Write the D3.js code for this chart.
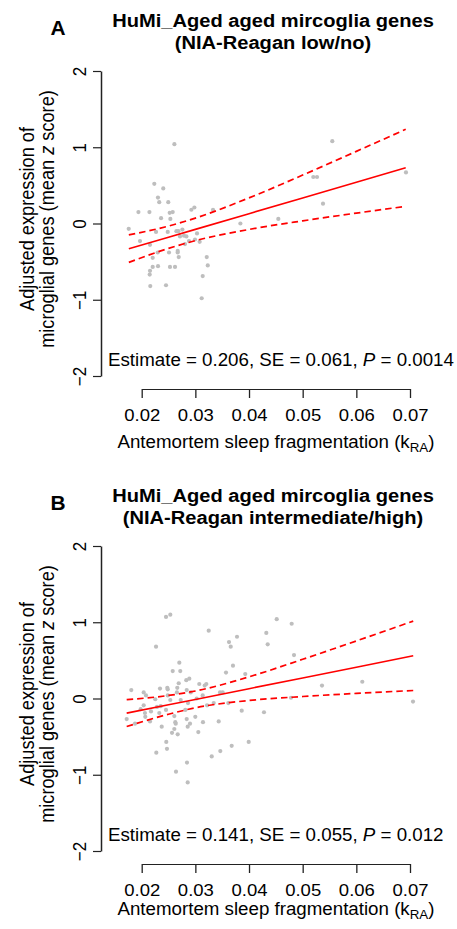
<!DOCTYPE html>
<meta charset="utf-8">
<style>
body { margin: 0; background: #fff; }
text { font-family: "Liberation Sans", Arial, Helvetica, sans-serif; fill: #000; }
.axis path, .axis line { stroke: #222; }
.dot { fill: #bebebe; }
.fit { stroke: #ff0000; fill: none; stroke-width: 1.6; }
.band { stroke: #ff0000; fill: none; stroke-width: 1.7; stroke-dasharray: 6.5,4; }
</style>
<body>
<script src="https://d3js.org/d3.v7.min.js"></script>
<script>
// ---- data ----
var xTicks = [0.02, 0.03, 0.04, 0.05, 0.06, 0.07];
var yTicks = [-2, -1, 0, 1, 2];
var panelLetters = ["A", "B"];
var titleLine = "HuMi_Aged aged mircoglia genes";
var subTitles = ["(NIA-Reagan low/no)", "(NIA-Reagan intermediate/high)"];
var estimates = ["0.206", "0.141"];
var stdErrors = ["0.061", "0.055"];
var pValues = ["0.0014", "0.012"];

// panel A: NIA-Reagan low/no
var pointsLow = [
  [0.02609,1.04],[0.02235,0.52],[0.02402,0.46],[0.02303,0.34],[0.02327,0.28],[0.02495,0.28],
  [0.01939,0.15],[0.02144,0.15],[0.02522,0.14],[0.02578,0.15],[0.02926,0.18],[0.02982,0.21],
  [0.03329,0.18],[0.02361,0.07],[0.02534,0.06],[0.01758,-0.07],[0.02267,-0.11],[0.02485,-0.11],
  [0.02647,-0.10],[0.02684,-0.10],[0.02758,-0.08],[0.02714,-0.17],[0.02788,-0.16],[0.02833,-0.17],
  [0.03031,-0.13],[0.01968,-0.23],[0.02155,-0.28],[0.02882,-0.23],[0.02807,-0.27],[0.02993,-0.21],
  [0.03080,-0.24],[0.02671,-0.36],[0.02671,-0.38],[0.02298,-0.38],[0.02509,-0.38],[0.02205,-0.45],
  [0.02690,-0.44],[0.03212,-0.44],[0.03231,-0.55],[0.02205,-0.57],[0.02304,-0.56],[0.02527,-0.57],
  [0.02621,-0.57],[0.02155,-0.62],[0.02149,-0.67],[0.03137,-0.69],[0.02160,-0.82],[0.02453,-0.81],
  [0.03118,-0.98],[0.05552,1.08],[0.05198,0.61],[0.05267,0.61],[0.05379,0.26],[0.04546,0.06],
  [0.03839,0.00],[0.06925,0.67]
];
var bandXLow = [0.0176, 0.025, 0.03, 0.04, 0.05, 0.06, 0.0692];
var fitLow   = [-0.33, -0.18, -0.077, 0.129, 0.335, 0.541, 0.73];
var upperLow = [-0.15, -0.034, 0.071, 0.336, 0.635, 0.946, 1.235];
var lowerLow = [-0.51, -0.326, -0.225, -0.078, 0.035, 0.136, 0.225];

// panel B: NIA-Reagan intermediate/high
var pointsHigh = [
  [0.02453,1.07],[0.02533,1.10],[0.03249,0.89],[0.03627,0.74],[0.03659,0.68],[0.03776,0.81],
  [0.02267,0.68],[0.02701,0.47],[0.02578,0.36],[0.02719,0.36],[0.03701,0.43],[0.03571,0.34],
  [0.01806,0.11],[0.02037,0.08],[0.02080,0.04],[0.02341,0.13],[0.02477,0.14],[0.02485,0.12],
  [0.02663,0.14],[0.02690,0.20],[0.02831,0.24],[0.02887,0.26],[0.02656,0.08],[0.02839,0.11],
  [0.02913,0.08],[0.03073,0.19],[0.03174,0.17],[0.03204,0.19],[0.03459,0.08],[0.03509,0.08],
  [0.02253,-0.01],[0.02485,0.04],[0.02533,-0.02],[0.02727,-0.02],[0.02863,-0.06],[0.03025,0.00],
  [0.03137,0.04],[0.03217,-0.09],[0.03342,-0.06],[0.03614,-0.06],[0.01720,-0.27],[0.01875,-0.33],
  [0.01981,-0.14],[0.02037,-0.09],[0.02061,-0.19],[0.02067,-0.24],[0.02155,-0.30],[0.02173,-0.17],
  [0.02285,-0.11],[0.02328,-0.19],[0.02354,-0.10],[0.02453,-0.15],[0.02608,-0.23],[0.02626,-0.31],
  [0.02634,-0.33],[0.02608,-0.40],[0.02565,-0.45],[0.02671,-0.47],[0.02813,-0.15],[0.02839,-0.27],
  [0.02900,-0.33],[0.02857,-0.37],[0.02999,-0.24],[0.03142,-0.31],[0.03055,-0.44],[0.03435,-0.30],
  [0.02373,-0.37],[0.02458,-0.57],[0.02471,-0.66],[0.02272,-0.71],[0.02844,-0.84],[0.02639,-0.96],
  [0.03305,-0.76],[0.03465,-0.69],[0.03677,-0.62],[0.04516,1.04],[0.04795,0.98],[0.04322,0.86],
  [0.04348,0.71],[0.04838,0.57],[0.03930,0.32],[0.05360,0.17],[0.06111,0.22],[0.04782,0.01],
  [0.07056,-0.04],[0.03864,-0.16],[0.04279,-0.18],[0.02857,-1.10],[0.03994,-0.57]
];
var bandXHigh = [0.0172, 0.025, 0.03, 0.04, 0.05, 0.06, 0.0706];
var fitHigh   = [-0.192, -0.083, -0.012, 0.129, 0.27, 0.411, 0.56];
var upperHigh = [-0.016, 0.04, 0.098, 0.284, 0.514, 0.755, 1.015];
var lowerHigh = [-0.368, -0.206, -0.122, -0.026, 0.026, 0.067, 0.105];

var pointSets = [pointsLow, pointsHigh];
var bandXs = [bandXLow, bandXHigh];
var fits = [fitLow, fitHigh];
var uppers = [upperLow, upperHigh];
var lowers = [lowerLow, lowerHigh];

// ---- layout ----
var SX = 1.07;               // text in the figure is slightly wide
var panelTop = [0, 475];
var xTitleY = [447.5, 440];   // second one sits higher in the picture (cropped page)

var svg = d3.select("body").append("svg")
    .attr("width", 457)
    .attr("height", 929);

function place(sel, px, py, rotated) {
  sel.attr("transform", "translate(" + px + "," + py + ") scale(" + SX + ",1)" + (rotated ? " rotate(-90)" : ""));
}

var x = d3.scaleLinear().domain([0.02, 0.07]).range([141.7, 410]);
var y = d3.scaleLinear().domain([-2, 2]).range([376, 71]);

panelLetters.forEach(function(letter, i) {
  var g = svg.append("g").attr("transform", "translate(0," + panelTop[i] + ")");

  // letter and title
  g.append("text").text(letter)
    .attr("font-size", 19.5).attr("font-weight", "bold").attr("text-anchor", "middle")
    .call(place, 58, 35);
  g.append("text").text(titleLine)
    .attr("font-size", 18.8).attr("font-weight", "bold").attr("text-anchor", "middle")
    .call(place, 273, 26.5);
  g.append("text").text(subTitles[i])
    .attr("font-size", 18.8).attr("font-weight", "bold").attr("text-anchor", "middle")
    .call(place, 273, 48.5);

  // points
  g.selectAll(".dot")
      .data(pointSets[i])
    .enter().append("circle")
      .attr("class", "dot")
      .attr("cx", function(d) { return x(d[0]); })
      .attr("cy", function(d) { return y(d[1]); })
      .attr("r", 2.1);

  // fitted line and confidence band
  var bx = bandXs[i];
  var straight = d3.line()
      .x(function(d, k) { return x(bx[k]); })
      .y(function(d) { return y(d); });
  var curved = d3.line()
      .x(function(d, k) { return x(bx[k]); })
      .y(function(d) { return y(d); })
      .curve(d3.curveMonotoneX);

  g.append("path").attr("class", "band").attr("d", curved(uppers[i]));
  g.append("path").attr("class", "band").attr("d", curved(lowers[i]));
  g.append("path").attr("class", "fit").attr("d", straight(fits[i]));

  // y axis
  var yAxis = g.append("g")
      .attr("class", "axis")
      .attr("transform", "translate(101,0)")
      .call(d3.axisLeft(y).tickValues(yTicks).tickSize(8).tickSizeOuter(0)
        .tickFormat(function(d) { return d < 0 ? "\u2212" + (-d) : d; }));
  yAxis.select(".domain").attr("stroke-width", 1.5);
  yAxis.selectAll(".tick line").attr("stroke-width", 1.2);
  yAxis.selectAll(".tick text")
      .attr("x", null).attr("dy", null)
      .attr("font-size", 17).attr("text-anchor", "middle")
      .each(function() { place(d3.select(this), -15, 0, true); });

  // x axis
  var xAxis = g.append("g")
      .attr("class", "axis")
      .attr("transform", "translate(0,389)")
      .call(d3.axisBottom(x).tickValues(xTicks).tickSize(9).tickSizeOuter(0)
        .tickFormat(d3.format(".2f")));
  xAxis.select(".domain").attr("stroke-width", 1.2);
  xAxis.selectAll(".tick line").attr("stroke-width", 1.3);
  xAxis.selectAll(".tick text")
      .attr("y", null).attr("dy", null)
      .attr("font-size", 17.3).attr("text-anchor", "middle")
      .each(function() { place(d3.select(this), 0, 31.5); });

  // x axis title with subscript
  var xt = g.append("text")
      .attr("font-size", 17.5).attr("text-anchor", "middle")
      .call(place, 276, xTitleY[i]);
  xt.append("tspan").text("Antemortem sleep fragmentation (k");
  xt.append("tspan").text("RA").attr("font-size", 12.5).attr("dy", 4);
  xt.append("tspan").text(")").attr("dy", -4);

  // y axis title, two lines
  g.append("text")
      .attr("font-size", 18.2).attr("text-anchor", "middle")
      .text("Adjusted expression of")
      .call(place, 34, 219, true);
  var yt2 = g.append("text")
      .attr("font-size", 18.2).attr("text-anchor", "middle")
      .call(place, 53.5, 219, true);
  yt2.append("tspan").text("microglial genes (mean ");
  yt2.append("tspan").text("z").attr("font-style", "italic");
  yt2.append("tspan").text(" score)");

  // model estimate
  var est = g.append("text")
      .attr("font-size", 17.5)
      .call(place, 108, 366);
  est.append("tspan").text("Estimate = " + estimates[i] + ", SE = " + stdErrors[i] + ", ");
  est.append("tspan").text("P").attr("font-style", "italic");
  est.append("tspan").text(" = " + pValues[i]);
});
</script>
</body>
